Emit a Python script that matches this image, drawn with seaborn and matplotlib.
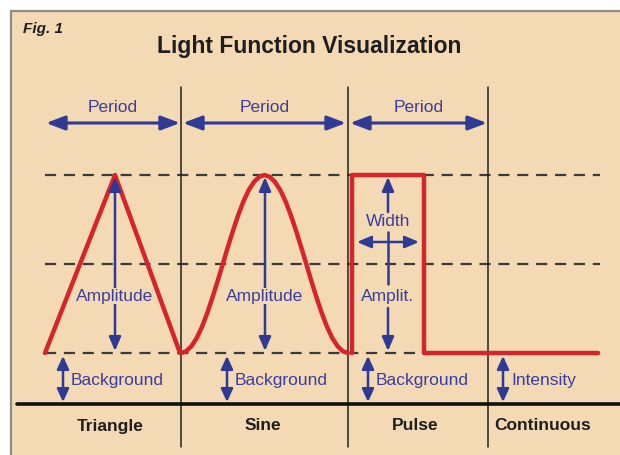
import numpy as np
import pandas as pd
import matplotlib
matplotlib.use("Agg")
import matplotlib.pyplot as plt
import seaborn as sns
from matplotlib.patches import Rectangle

sns.set_theme(style="white")
plt.rcParams['font.family'] = ['Liberation Sans', 'DejaVu Sans']

# ---------------- data (x in horizontal units, y in signal level: 0 = background, 1 = peak)
title = "Light Function Visualization"
fig_label = "Fig. 1"
categories = ["Triangle", "Sine", "Pulse", "Continuous"]
category_x = [110, 263, 415, 543]
dividers_x = [181, 348, 488]
level_lines = [1.0, 0.5, 0.0]

triangle_x = [45, 115, 180]
triangle_y = [0.0, 1.0, 0.0]

sine_x = [181.0, 186.2, 191.4, 196.7, 201.9, 207.1, 212.3, 217.5, 222.8, 228.0, 233.2,
          238.4, 243.6, 248.8, 254.1, 259.3, 264.5, 269.7, 274.9, 280.2, 285.4, 290.6,
          295.8, 301.0, 306.3, 311.5, 316.7, 321.9, 327.1, 332.3, 337.6, 342.8, 348.0]
sine_y = [0.0, 0.010, 0.038, 0.084, 0.146, 0.222, 0.309, 0.402, 0.5, 0.598, 0.691, 0.778,
          0.854, 0.916, 0.962, 0.990, 1.0, 0.990, 0.962, 0.916, 0.854, 0.778, 0.691, 0.598,
          0.5, 0.402, 0.309, 0.222, 0.146, 0.084, 0.038, 0.010, 0.0]

pulse_x = [352, 352, 424, 424, 598]
pulse_y = [0.0, 1.0, 1.0, 0.0, 0.0]

period_spans = [(46, 180), (183, 346), (350, 487)]
period_label = "Period"
amp_x = [115, 265, 388]
amp_labels = ["Amplitude", "Amplitude", "Amplit."]
bg_arrow_x = [63, 227, 368, 503]
bg_labels = ["Background", "Background", "Background", "Intensity"]
width_span = (357, 419)
width_label = "Width"

# ---------------- layout helpers (pixel -> level mapping for the axes)
W, H = 620, 455
top_px, base_px = 175, 353
scale = base_px - top_px
def lv(py):
    return (base_px - py) / scale

BG = "#F3D9B4"
RED = "#D6242A"
BLUE = "#2E3A94"
TXTBLUE = "#3B3E9E"
DARK = "#222222"
FS = 12.5

fig = plt.figure(figsize=(6.2, 4.55), dpi=100)
fig.patch.set_facecolor("white")
ax = fig.add_axes([0, 0, 1, 1])

# frame
ax.add_patch(Rectangle((11, lv(H + 20)), W + 20, lv(11) - lv(H + 20),
                       facecolor=BG, edgecolor="#8C8C8C", lw=1.6, zorder=0))

# dashed level lines
for yl in level_lines:
    ax.plot([45, 600], [yl, yl], color="#3A3A3A", lw=1.6, ls=(0, (5, 3.5)), zorder=2)

# vertical dividers and baseline
for xd in dividers_x:
    ax.plot([xd, xd], [lv(87), lv(447)], color=DARK, lw=1.1, zorder=3)
ax.plot([17, W], [lv(404), lv(404)], color="#111111", lw=2.6, zorder=3)

# signals
df = pd.concat([
    pd.DataFrame({"x": triangle_x, "y": triangle_y, "kind": "Triangle"}),
    pd.DataFrame({"x": sine_x, "y": sine_y, "kind": "Sine"}),
    pd.DataFrame({"x": pulse_x, "y": pulse_y, "kind": "Pulse"}),
])
sns.lineplot(data=df, x="x", y="y", units="kind", estimator=None, sort=False,
             color=RED, lw=3.2, ax=ax, zorder=5, legend=False)
ax.set_xlim(0, W)
ax.set_ylim(lv(H), lv(0))
ax.axis("off")

def darrow(x0, y0, x1, y1, lw=1.8, hw=0.3, hl=0.7):
    ax.annotate("", xy=(x1, y1), xytext=(x0, y0),
                arrowprops=dict(arrowstyle=f"<|-|>,head_length={hl},head_width={hw}",
                                color=BLUE, lw=lw, shrinkA=0, shrinkB=0), zorder=6)

def uarrow(x0, y0, x1, y1, lw=1.8, hw=0.3, hl=0.7):
    ax.annotate("", xy=(x1, y1), xytext=(x0, y0),
                arrowprops=dict(arrowstyle=f"-|>,head_length={hl},head_width={hw}",
                                color=BLUE, lw=lw, shrinkA=0, shrinkB=0), zorder=6)

# period arrows
for (a, b) in period_spans:
    darrow(a, lv(123), b, lv(123), lw=2.2, hw=0.36, hl=0.95)
    ax.text((a + b) / 2, lv(108), period_label, color=TXTBLUE, fontsize=FS,
            ha="center", va="center", zorder=7)

# amplitude arrows
for xa, lab in zip(amp_x, amp_labels):
    if lab == "Amplit.":
        uarrow(xa, lv(212), xa, lv(177))
        ax.plot([xa, xa], [lv(232), lv(284)], color=BLUE, lw=1.8, zorder=6)
        uarrow(xa, lv(308), xa, lv(351))
    else:
        darrow(xa, lv(177), xa, lv(351))
    ax.text(xa, lv(296), lab, color=TXTBLUE, fontsize=FS, ha="center", va="center",
            zorder=7, bbox=dict(boxstyle="square,pad=0.05", fc=BG, ec="none"))

# width arrow
darrow(width_span[0], lv(242), width_span[1], lv(242), lw=1.8)
ax.text(388, lv(222), width_label, color=TXTBLUE, fontsize=FS, ha="center",
        va="center", zorder=7)

# background / intensity arrows
for xb, lab in zip(bg_arrow_x, bg_labels):
    darrow(xb, lv(356), xb, lv(402), lw=1.8, hw=0.3, hl=0.65)
    ax.text(xb + 8, lv(381), lab, color=TXTBLUE, fontsize=FS, ha="left",
            va="center", zorder=7)

# category labels
for cx, c in zip(category_x, categories):
    ax.text(cx, lv(426), c, color="#1E1E1E", fontsize=12.5, fontweight="bold",
            ha="center", va="center", zorder=7)

ax.text(309, lv(46), title, color="#1E1E1E", fontsize=16.5, fontweight="bold",
        ha="center", va="center")
ax.text(23, lv(29), fig_label, color="#1E1E1E", fontsize=11, fontweight="bold",
        fontstyle="italic", ha="left", va="center")

fig.savefig("out.png", dpi=100, facecolor=fig.get_facecolor())
